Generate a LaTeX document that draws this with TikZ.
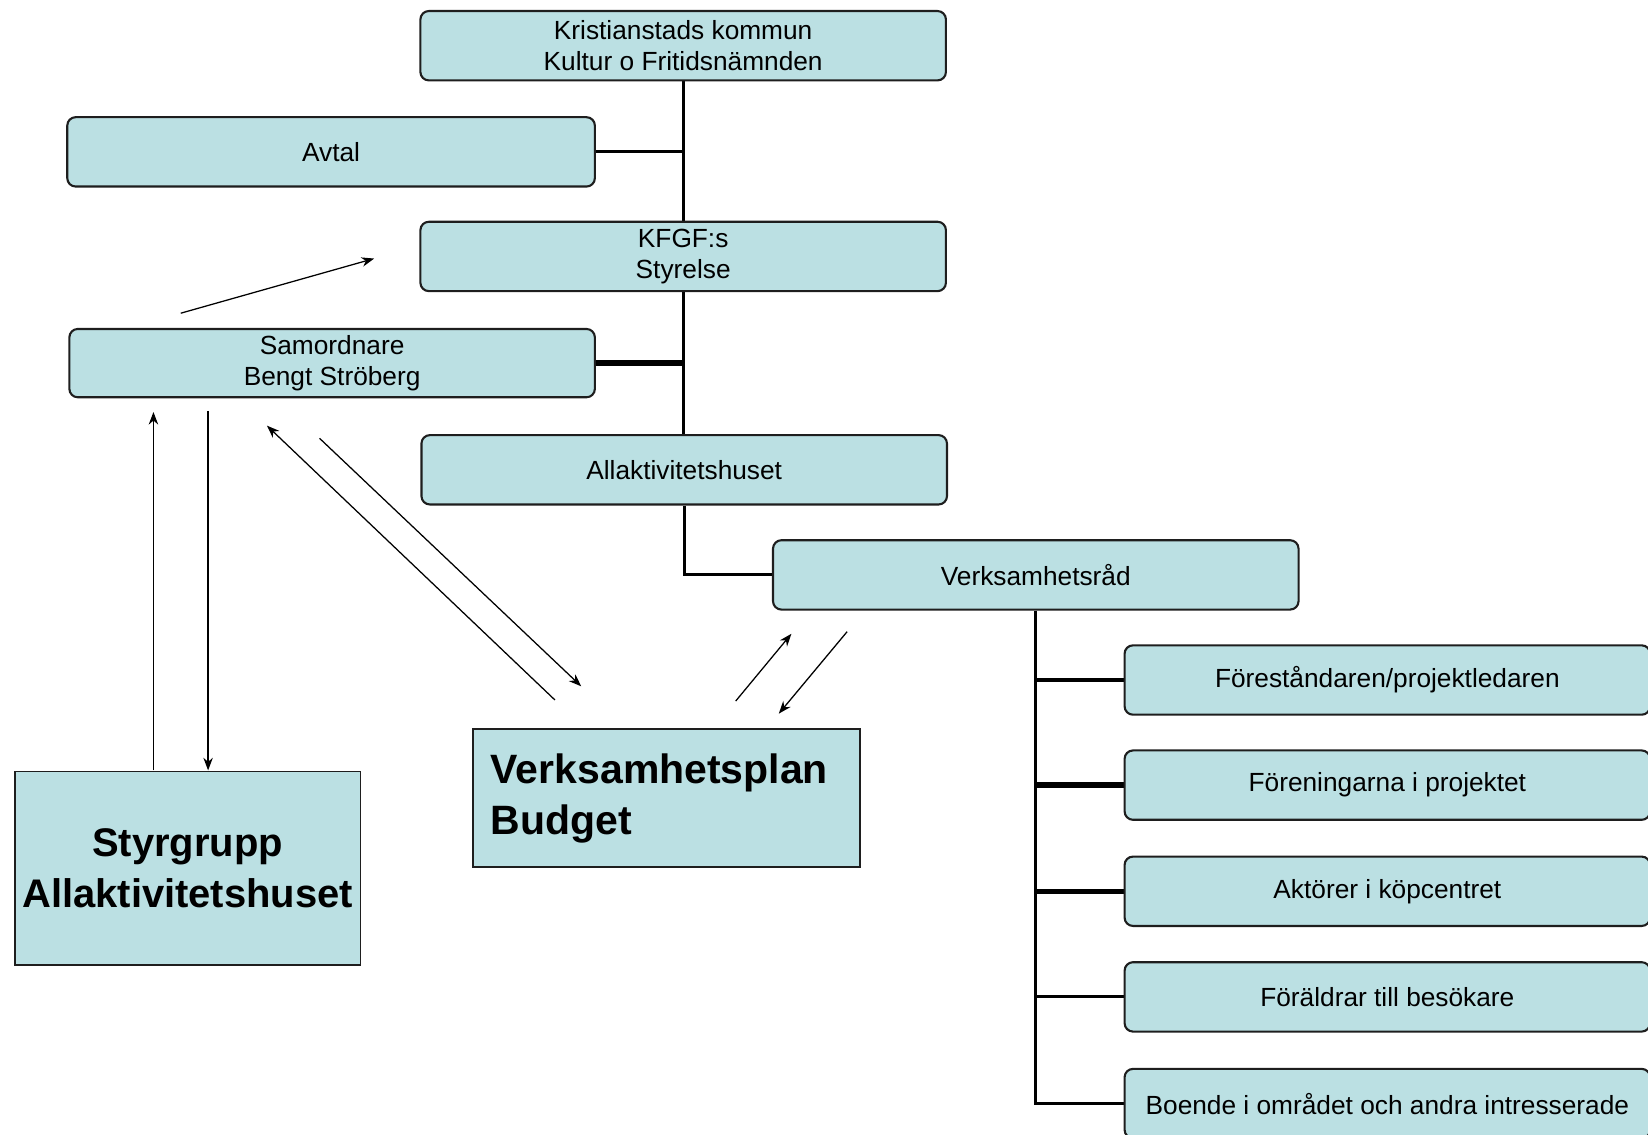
\documentclass[tikz,border=0pt]{standalone}
\usepackage{fontspec}
\setmainfont{Liberation Sans}
\usetikzlibrary{arrows.meta,backgrounds}
\definecolor{boxfill}{HTML}{BBE0E3}
\definecolor{boxline}{HTML}{1E1E1E}
\begin{document}
\begin{tikzpicture}[x=0.5pt,y=-0.5pt,
  rbox/.style={draw=boxline,line width=1pt,fill=boxfill,rounded corners=4pt,
    minimum width=250pt,minimum height=33pt,inner sep=0pt,align=center,
    font=\fontsize{12.5}{15}\selectfont},
  sbox/.style={draw=boxline,line width=0.9pt,fill=boxfill,inner sep=0pt,
    font=\fontsize{19}{24.5}\selectfont\bfseries},
  conn/.style={line width=1.5pt,draw=black},
  thickconn/.style={line width=2.5pt,draw=black},
  arr/.style={line width=0.6pt,-{Stealth[length=6pt,width=4.5pt]}}
]
\useasboundingbox (0,0) rectangle (1568,1079);
\clip (0,0) rectangle (1568,1079);

% boxes
\node[rbox] (kk) at (650,43.5) {Kristianstads kommun\\Kultur o Fritidsnämnden};
\node[rbox,minimum width=251pt] (avtal) at (315,144.5) {Avtal};
\node[rbox] (kfgf) at (650,244) {KFGF:s\\Styrelse};
\node[rbox,minimum height=32.5pt] (sam) at (316,345.5) {Samordnare\\Bengt Ströberg};
\node[rbox] (alla) at (651,447) {Allaktivitetshuset};
\node[rbox] (vr) at (985.5,547) {Verksamhetsråd};
\node[rbox] (f1) at (1320,647) {Föreståndaren/projektledaren};
\node[rbox] (f2) at (1320,747) {Föreningarna i projektet};
\node[rbox] (f3) at (1320,848) {Aktörer i köpcentret};
\node[rbox] (f4) at (1320,948.5) {Föräldrar till besökare};
\node[rbox] (f5) at (1320,1050) {Boende i området och andra intresserade};

\node[sbox,minimum width=164.5pt,minimum height=92pt,align=center] (styr) at (178.5,826)
  {Styrgrupp\\Allaktivitetshuset};
\node[sbox,minimum width=184pt,minimum height=65.5pt,text width=167pt,align=left] (vp) at (634,759.5)
  {\fontsize{19.5}{24.5}\selectfont Verksamhetsplan\\Budget};

% tree connectors (behind the boxes)
\begin{scope}[on background layer]
\draw[conn] (kk.south) -- (kk.south |- alla.north);
\draw[conn] (avtal.east) -- (avtal.east -| kk.south);
\draw[thickconn] (sam.east) -- (sam.east -| kk.south);
\draw[conn] (alla.south) |- (vr.west);
\draw[conn] (vr.south) |- (f5.west);
\draw[conn] (vr.south |- f1.west) -- (f1.west);
\draw[thickconn] (vr.south |- f2.west) -- (f2.west);
\draw[thickconn] (vr.south |- f3.west) -- (f3.west);
\draw[conn] (vr.south |- f4.west) -- (f4.west);
\end{scope}

% arrow end points
\coordinate (a1s) at (172,298);
\coordinate (a1e) at (356,246);
\coordinate (a2s) at (146,733);
\coordinate (a2e) at (146,392);
\coordinate (a3s) at (198,391);
\coordinate (a3e) at (198,733);
\coordinate (a4s) at (528,666);
\coordinate (a4e) at (254,405);
\coordinate (a5s) at (304,417);
\coordinate (a5e) at (553,653);
\coordinate (a6s) at (700,667);
\coordinate (a6e) at (753,603);
\coordinate (a7s) at (806,601);
\coordinate (a7e) at (741,679);

\draw[arr] (a1s) -- (a1e);
\draw[arr] (a2s) -- (a2e);
\draw[arr] (a3s) -- (a3e);
\draw[arr] (a4s) -- (a4e);
\draw[arr] (a5s) -- (a5e);
\draw[arr] (a6s) -- (a6e);
\draw[arr] (a7s) -- (a7e);
\end{tikzpicture}
\end{document}
